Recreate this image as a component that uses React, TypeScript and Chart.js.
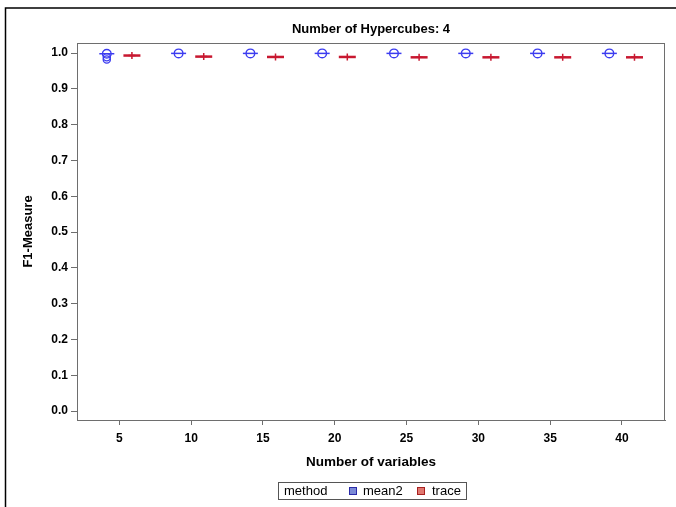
import React, { useEffect, useRef } from "react";
import { Chart, registerables } from "chart.js";

Chart.register(...registerables);

const categories = [5, 10, 15, 20, 25, 30, 35, 40];
const mean2Values = [0.998, 0.999, 0.999, 0.999, 0.999, 0.999, 0.999, 0.999];
const traceValues = [0.993, 0.99, 0.989, 0.989, 0.988, 0.988, 0.988, 0.988];
const mean2OutlierCategory = [5, 5];
const mean2Outliers = [0.988, 0.982];
const yTicks = [0, 0.1, 0.2, 0.3, 0.4, 0.5, 0.6, 0.7, 0.8, 0.9, 1.0];
const xTicks = [5, 10, 15, 20, 25, 30, 35, 40];

const BLUE = "#3c3cf0";
const RED = "#c81830";
const DODGE = 0.875;
const FONT = "'Liberation Sans', Arial, sans-serif";

const decorPlugin = {
  id: "decor",
  afterDraw(chart: any) {
    const ctx = chart.ctx;
    const a = chart.chartArea;
    ctx.save();
    // outer frame
    ctx.strokeStyle = "#000";
    ctx.lineWidth = 1.5;
    ctx.beginPath();
    ctx.moveTo(676, 8);
    ctx.lineTo(5.5, 8);
    ctx.lineTo(5.5, 507);
    ctx.stroke();
    // plot frame
    ctx.strokeStyle = "#6e6e6e";
    ctx.lineWidth = 1;
    ctx.strokeRect(a.left + 0.5, a.top + 0.5, a.right - a.left - 1, a.bottom - a.top);
    const cx = (a.left + a.right) / 2;
    // title
    ctx.fillStyle = "#000";
    ctx.textAlign = "center";
    ctx.textBaseline = "middle";
    ctx.font = `bold 13px ${FONT}`;
    ctx.fillText("Number of Hypercubes: 4", cx, 29);
    // x title
    ctx.font = `bold 13.5px ${FONT}`;
    ctx.fillText("Number of variables", cx, 462);
    // y title
    ctx.save();
    ctx.translate(28, (a.top + a.bottom) / 2);
    ctx.rotate(-Math.PI / 2);
    ctx.font = `bold 13px ${FONT}`;
    ctx.fillText("F1-Measure", 0, 0);
    ctx.restore();
    // legend
    ctx.strokeStyle = "#555";
    ctx.lineWidth = 1;
    ctx.strokeRect(278.5, 482.5, 188, 17);
    ctx.font = `13px ${FONT}`;
    ctx.textAlign = "left";
    ctx.fillStyle = "#000";
    ctx.fillText("method", 284, 491.5);
    ctx.fillStyle = "#7b8ad6";
    ctx.fillRect(349, 487, 8, 8);
    ctx.strokeStyle = "#2a2aa8";
    ctx.strokeRect(349.5, 487.5, 7, 7);
    ctx.fillStyle = "#000";
    ctx.fillText("mean2", 363, 491.5);
    ctx.fillStyle = "#e07870";
    ctx.fillRect(417, 487, 8, 8);
    ctx.strokeStyle = "#a82020";
    ctx.strokeRect(417.5, 487.5, 7, 7);
    ctx.fillStyle = "#000";
    ctx.fillText("trace", 432, 491.5);
    ctx.restore();
  },
};

export default function App() {
  const ref = useRef<HTMLCanvasElement>(null);
  useEffect(() => {
    if (!ref.current) return;
    const mean2Pts = categories.map((c, i) => ({ x: c - DODGE, y: mean2Values[i] }));
    const tracePts = categories.map((c, i) => ({ x: c + DODGE, y: traceValues[i] }));
    const outPts = mean2OutlierCategory.map((c, i) => ({ x: c - DODGE, y: mean2Outliers[i] }));
    const chart = new Chart(ref.current, {
      type: "scatter",
      data: {
        datasets: [
          { data: mean2Pts, pointStyle: "line", pointRadius: 7.5, borderColor: BLUE, borderWidth: 1.5, backgroundColor: BLUE },
          { data: mean2Pts, pointStyle: "circle", pointRadius: 4.3, borderColor: BLUE, borderWidth: 1.4, backgroundColor: "rgba(0,0,0,0)" },
          { data: outPts, pointStyle: "circle", pointRadius: 3.6, borderColor: BLUE, borderWidth: 1.3, backgroundColor: "rgba(0,0,0,0)" },
          { data: tracePts, pointStyle: "line", pointRadius: 8.5, borderColor: RED, borderWidth: 2.5, backgroundColor: RED },
          { data: tracePts, pointStyle: "cross", pointRadius: 3.5, borderColor: RED, borderWidth: 1.5, backgroundColor: RED },
        ],
      },
      options: {
        animation: false,
        responsive: false,
        events: [],
        layout: { padding: { left: 0, top: 43, right: 9, bottom: 57 } },
        plugins: { legend: { display: false }, tooltip: { enabled: false }, title: { display: false } },
        scales: {
          x: {
            type: "linear",
            min: 2.05,
            max: 43,
            afterFit: (s: any) => { s.height = 30; },
            afterBuildTicks: (s: any) => { s.ticks = xTicks.map((v) => ({ value: v })); },
            grid: { display: true, drawOnChartArea: false, drawTicks: true, tickLength: 5, tickColor: "#6e6e6e" },
            border: { display: true, color: "#6e6e6e" },
            ticks: { padding: 6, color: "#000", font: { family: FONT, size: 12, weight: "bold" }, maxRotation: 0, autoSkip: false },
          },
          y: {
            type: "linear",
            min: -0.025,
            max: 1.028,
            afterFit: (s: any) => { s.width = 77; },
            afterBuildTicks: (s: any) => { s.ticks = yTicks.map((v) => ({ value: v })); },
            grid: { display: true, drawOnChartArea: false, drawTicks: true, tickLength: 6, tickColor: "#6e6e6e" },
            border: { display: true, color: "#6e6e6e" },
            ticks: {
              padding: 3,
              color: "#000",
              font: { family: FONT, size: 12, weight: "bold" },
              autoSkip: false,
              callback: (v: any) => Number(v).toFixed(1),
            },
          },
        },
      },
      plugins: [decorPlugin],
    } as any);
    return () => chart.destroy();
  }, []);
  return (
    <div style={{ position: "fixed", left: 0, top: 0, width: 676, height: 507, background: "#fff" }}>
      <canvas ref={ref} width={676} height={507} style={{ width: 676, height: 507 }} />
    </div>
  );
}
